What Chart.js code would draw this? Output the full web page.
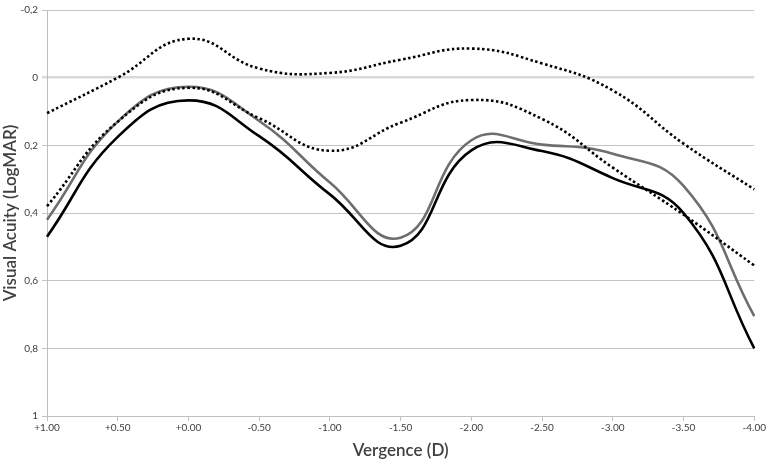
<!DOCTYPE html>
<html>
<head>
<meta charset="utf-8">
<script src="https://cdn.jsdelivr.net/npm/chart.js@4"></script>
<style>
	html, body { margin: 0; padding: 0; background: #fff; }
	#wrap { width: 767px; height: 461px; }
</style>
</head>
<body>
<div id="wrap"><canvas id="visusChart"></canvas></div>
<script>
// vergence categories
const vergence = ["+1.00", "+0.50", "+0.00", "-0.50", "-1.00", "-1.50", "-2.00", "-2.50", "-3.00", "-3.50", "-4.00"];

// logMAR values
const blackLine = [0.47, 0.175, 0.067, 0.173, 0.345, 0.497, 0.215, 0.217, 0.297, 0.4, 0.8];
const greyLine = [0.42, 0.13, 0.027, 0.128, 0.31, 0.473, 0.185, 0.198, 0.225, 0.32, 0.705];
const upperDots = [0.105, 0.0, -0.115, -0.027, -0.014, -0.053, -0.086, -0.042, 0.038, 0.195, 0.33];
const lowerDots = [0.38, 0.13, 0.03, 0.12, 0.216, 0.133, 0.066, 0.122, 0.266, 0.405, 0.555];

// y ticks
const yTicks = [-0.2, 0, 0.2, 0.4, 0.6, 0.8, 1];

const font = "Lato, 'Open Sans', sans-serif";

function tickLabel(v) {
	return String(Math.round(v * 10) / 10).replace(".", ",");
}

function line(label, data, color, dash) {
	return {
		label: label,
		data: data,
		borderColor: color,
		borderWidth: 2.6,
		borderDash: dash ? [2.5, 2.5] : [],
		pointRadius: 0,
		tension: 0.45,
		fill: false,
	};
}

const ctx = document.getElementById("visusChart").getContext("2d");

new Chart(ctx, {
	type: "line",
	data: {
		labels: vergence,
		datasets: [
			line("Upper limit", upperDots, "#000", true),
			line("Lower limit", lowerDots, "#000", true),
			line("Series B", greyLine, "#6e6e6e", false),
			line("Series A", blackLine, "#000", false),
		],
	},
	options: {
		responsive: true,
		maintainAspectRatio: false,
		animation: false,
		layout: { padding: { top: -3, right: 12, bottom: 0, left: 0 } },
		plugins: {
			legend: { display: false },
			tooltip: { enabled: false },
		},
		scales: {
			x: {
				offset: false,
				afterFit: (scale) => {
					scale.height = 45;
				},
				grid: {
					drawOnChartArea: false,
					drawTicks: true,
					tickLength: 5,
					color: "#bfbfbf",
				},
				border: { color: "#bfbfbf" },
				ticks: {
					color: "#404040",
					font: { family: font, size: 10 },
					maxRotation: 0,
					autoSkip: false,
					padding: 1,
				},
				title: {
					display: true,
					text: "Vergence (D)",
					color: "#404040",
					font: { family: font, size: 17, weight: "600" },
					padding: { top: 4, bottom: 0 },
				},
			},
			y: {
				reverse: true,
				min: -0.2,
				max: 1,
				afterBuildTicks: (scale) => {
					scale.ticks = yTicks.map((v) => ({ value: v }));
				},
				afterFit: (scale) => {
					scale.width = 47;
				},
				grid: {
					color: (c) => (c.tick && c.tick.value === 0 ? "#d9d9d9" : "#c4c4c4"),
					lineWidth: (c) => (c.tick && c.tick.value === 0 ? 2.5 : 1),
					drawTicks: true,
					tickLength: 5,
				},
				border: { color: "#bfbfbf" },
				ticks: {
					color: "#404040",
					font: { family: font, size: 10 },
					callback: (v) => tickLabel(v),
					padding: 4,
				},
				title: {
					display: true,
					text: "Visual Acuity (LogMAR)",
					color: "#404040",
					font: { family: font, size: 17, weight: "600" },
					padding: { top: 0, bottom: 4 },
				},
			},
		},
	},
});
</script>
</body>
</html>
